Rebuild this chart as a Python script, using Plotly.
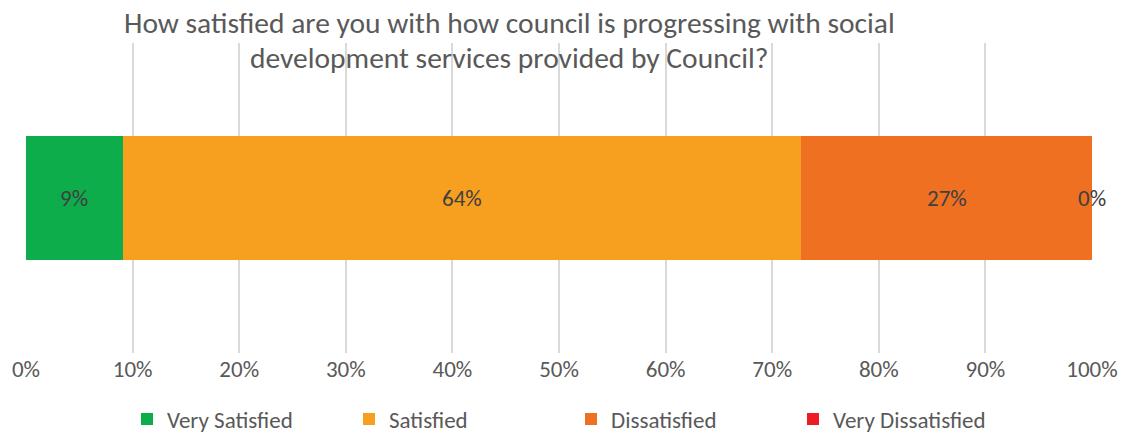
import plotly.graph_objects as go

# Survey response shares (percent of respondents)
categories = ["Very Satisfied", "Satisfied", "Dissatisfied", "Very Dissatisfied"]
shares = [9.09, 63.64, 27.27, 0.0]
colors = ["#0DAD4B", "#F79F1E", "#F07022", "#ED1C24"]
row_label = [""]
tick_values = [0, 10, 20, 30, 40, 50, 60, 70, 80, 90, 100]
tick_text = [f"{v}%" for v in tick_values]
title_lines = [
    "How satisfied are you with how council is progressing with social",
    "development services provided by Council?",
]

FONT = "Calibri, Carlito, Lato, sans-serif"
W, H = 1125, 438
M_L, M_R, M_T, M_B = 26, 33, 43, 85
PLOT_W = W - M_L - M_R
PLOT_H = H - M_T - M_B

fig = go.Figure()
for name, val, col in zip(categories, shares, colors):
    fig.add_trace(go.Bar(
        y=row_label, x=[val], name=name, orientation="h",
        marker=dict(color=col, line=dict(width=0)),
        width=0.4, hoverinfo="skip",
    ))

# Centered value labels for each segment (including zero-width ones)
start = 0.0
for val in shares:
    fig.add_annotation(
        x=start + val / 2, y=0, xref="x", yref="y",
        text=f"{round(val)}%", showarrow=False,
        font=dict(family=FONT, size=23, color="#404040"),
    )
    start += val

# Two-line chart title, placed above the plot area
for i, line in enumerate(title_lines):
    fig.add_annotation(
        x=(509 - M_L) / PLOT_W, y=(H - M_B - (23 + 35 * i)) / PLOT_H,
        xref="paper", yref="paper",
        xanchor="center", yanchor="middle",
        text=line, showarrow=False,
        font=dict(family=FONT, size=29.5, color="#595959"),
    )

fig.update_layout(
    barmode="stack",
    width=W, height=H,
    margin=dict(l=M_L, r=M_R, t=M_T, b=M_B, autoexpand=False),
    paper_bgcolor="white", plot_bgcolor="white",
    xaxis=dict(
        range=[0, 100], tickvals=tick_values, ticktext=tick_text,
        showgrid=True, gridcolor="#D9D9D9", gridwidth=1.5,
        zeroline=False, showline=False, ticks="",
        tickfont=dict(family=FONT, size=23, color="#595959"),
        fixedrange=True,
    ),
    yaxis=dict(
        range=[-0.5, 0.5], showticklabels=False, showgrid=False,
        zeroline=False, showline=False, fixedrange=True,
    ),
    legend=dict(
        orientation="h", xref="container", yref="container",
        x=127 / W, xanchor="left", y=(H - 419) / H, yanchor="middle",
        entrywidth=177, entrywidthmode="pixels",
        font=dict(family=FONT, size=23, color="#595959"),
        traceorder="normal", itemclick=False, itemdoubleclick=False,
    ),
    showlegend=True,
)

fig.write_html("out.html")
